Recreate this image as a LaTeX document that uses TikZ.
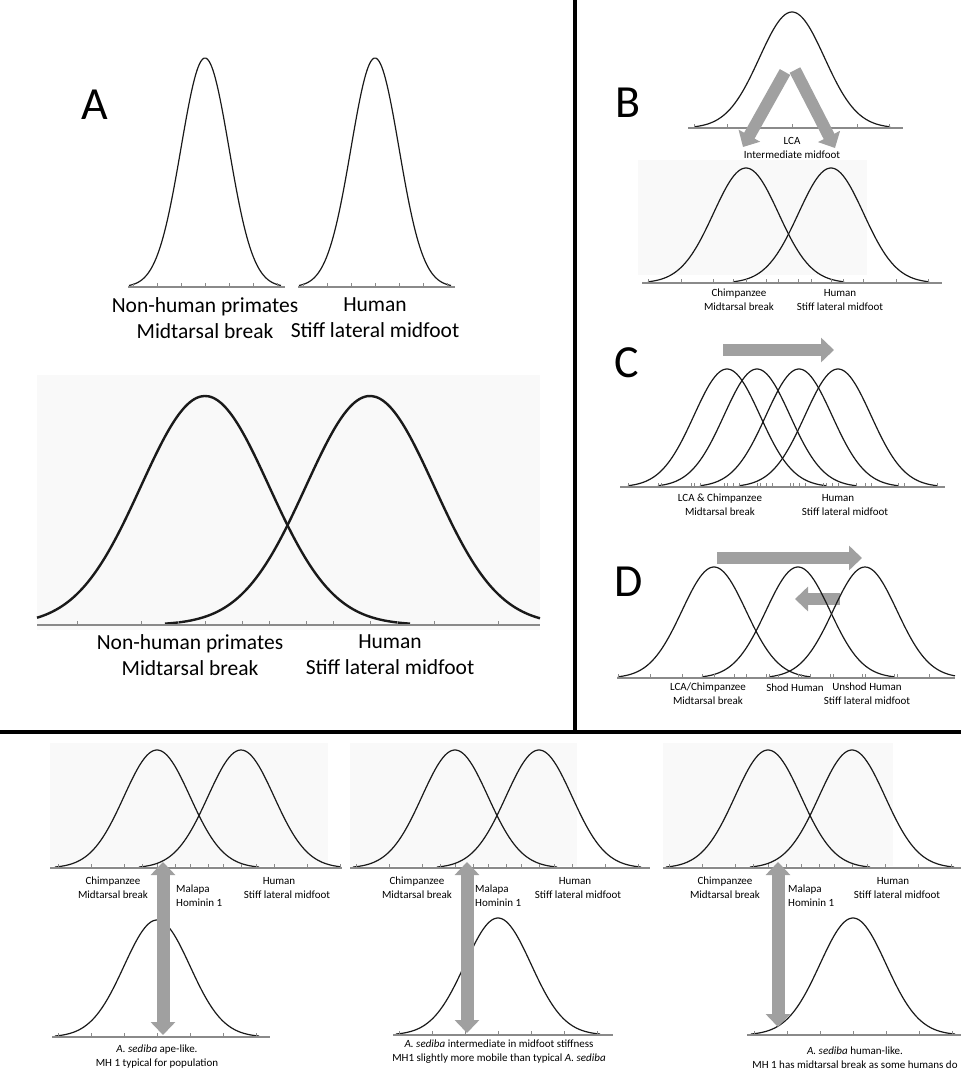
\documentclass[tikz,border=0pt]{standalone}
\usepackage{fontspec}
\setmainfont{Carlito}
\usepackage{xcolor}
\usepackage{tikz}
\usetikzlibrary{arrows.meta,positioning}
\definecolor{Ink}{HTML}{1A1A1A}
\definecolor{AxisGray}{HTML}{8A8A8A}
\definecolor{ArrowGray}{HTML}{A0A0A0}
\definecolor{ChartBg}{HTML}{F9F9F9}
% bell curve: [style]{centre}{baseline}{height}{sigma}{from}{to}
\newcommand{\bellcurve}[7][curve]{%
  \draw[#1] plot[domain=#6:#7,samples=90,smooth]
    (\x,{#3-#4*exp(-0.5*((\x-#2)/#5)*((\x-#2)/#5))});}
% ticks at every sigma: {centre}{baseline}{sigma}{list}
\newcommand{\sigmaticks}[4]{%
  \foreach \k in {#4} \draw[tickmark] ({#1+\k*#3},#2) -- ++(0,-4);}
\begin{document}
\begin{tikzpicture}[x=1pt,y=-1pt,
  curve/.style={line width=1.2pt,draw=Ink},
  boldcurve/.style={line width=2.4pt,draw=Ink},
  axisline/.style={line width=1.1pt,draw=AxisGray},
  tickmark/.style={line width=0.7pt,draw=AxisGray},
  panelletter/.style={font=\fontsize{46}{46}\selectfont,inner sep=0pt},
  biglabel/.style={font=\fontsize{21.5}{26}\selectfont,align=center,inner sep=0pt},
  smalllabel/.style={font=\fontsize{11}{14}\selectfont,align=center,inner sep=0pt},
  fatarrow/.style={draw=ArrowGray,line width=12pt,-{Triangle[length=13pt,width=24pt]}},
  dblarrow/.style={draw=ArrowGray,line width=13pt,{Triangle[length=13pt,width=24pt]}-{Triangle[length=13pt,width=24pt]}},
  chartbg/.style={fill=ChartBg,draw=none},
  divider/.style={line width=4.5pt,draw=black}
]
  \useasboundingbox (0,0) rectangle (961,1074);
  \draw[divider] (575,0) -- (575,732);
  \draw[divider] (0,732) -- (961,732);

  % A, small curves
  \node[panelletter] (letA) at (95,105) {A};
  \bellcurve{205}{287}{229}{24}{129}{281}
  \bellcurve{375}{287}{229}{24}{299}{451}
  \draw[axisline] (128,287) -- (285,287);
  \draw[axisline] (298,287) -- (455,287);
  \sigmaticks{205}{287}{24}{-3,...,3}
  \sigmaticks{375}{287}{24}{-3,...,3}
  \node[biglabel] (aNonHuman) at (205,318) {Non-human primates\\Midtarsal break};
  \node[biglabel] (aHuman) at (375,318) {Human\\Stiff lateral midfoot};

  % A, large curves
  \fill[chartbg] (37,375) rectangle (540,630);
  \bellcurve[boldcurve]{205}{625}{229}{64}{37}{410}
  \bellcurve[boldcurve]{370}{625}{229}{64}{165}{540}
  \draw[axisline] (37,625) -- (540,625);
  \sigmaticks{205}{625}{64}{-2,...,3}
  \sigmaticks{370}{625}{64}{-3,...,2}
  \node[biglabel] (aNonHumanBig) at (190,655) {Non-human primates\\Midtarsal break};
  \node[biglabel] (aHumanBig) at (390,655) {Human\\Stiff lateral midfoot};

  % B
  \node[panelletter] (letB) at (628,103) {B};
  \bellcurve{792}{128}{116}{32.5}{695}{890}
  \draw[axisline] (688,128) -- (903,128);
  \sigmaticks{792}{128}{32.5}{-3,...,3}
  \node[smalllabel] (bLca) at (792,148) {LCA\\Intermediate midfoot};
  \coordinate (bLeftTail) at (785,72);
  \coordinate (bLeftTip) at (743,147);
  \coordinate (bRightTail) at (795,70);
  \coordinate (bRightTip) at (835,148);
  \draw[fatarrow] (bLeftTail) -- (bLeftTip);
  \draw[fatarrow] (bRightTail) -- (bRightTip);
  \fill[chartbg] (638,160) rectangle (867,275);
  \bellcurve{746}{283}{115}{32.5}{648}{844}
  \bellcurve{831}{283}{115}{32.5}{733}{929}
  \draw[axisline] (642,283) -- (942,283);
  \sigmaticks{746}{283}{32.5}{-3,...,3}
  \sigmaticks{831}{283}{32.5}{-3,...,3}
  \node[smalllabel] (bChimp) at (739,300) {Chimpanzee\\Midtarsal break};
  \node[smalllabel] (bHuman) at (840,300) {Human\\Stiff lateral midfoot};

  % C
  \node[panelletter] (letC) at (627,363) {C};
  \coordinate (cTail) at (723,350);
  \coordinate (cTip) at (834,350);
  \draw[fatarrow] (cTail) -- (cTip);
  \bellcurve{727}{487}{118}{33}{628}{826}
  \bellcurve{757}{487}{118}{33}{658}{856}
  \bellcurve{799}{487}{118}{33}{700}{898}
  \bellcurve{838}{487}{118}{33}{739}{937}
  \draw[axisline] (620,487) -- (945,487);
  \sigmaticks{727}{487}{33}{-3,...,3}
  \sigmaticks{757}{487}{33}{-3,...,3}
  \sigmaticks{799}{487}{33}{-3,...,3}
  \sigmaticks{838}{487}{33}{-3,...,3}
  \node[smalllabel] (cChimp) at (720,505) {LCA \& Chimpanzee\\Midtarsal break};
  \node[smalllabel] (cHuman) at (838,498) {Human};
  \node[smalllabel] (cStiff) at (845,512) {Stiff lateral midfoot};

  % D
  \node[panelletter] (letD) at (629,582) {D};
  \coordinate (dLongTail) at (717,558);
  \coordinate (dLongTip) at (862,558);
  \coordinate (dShortTail) at (840,599);
  \coordinate (dShortTip) at (795,599);
  \draw[fatarrow] (dLongTail) -- (dLongTip);
  \draw[fatarrow] (dShortTail) -- (dShortTip);
  \bellcurve{714}{678}{111}{32}{618}{810}
  \bellcurve{798}{678}{111}{32}{702}{894}
  \bellcurve{865}{678}{111}{32}{769}{955}
  \draw[axisline] (617,678) -- (955,678);
  \sigmaticks{714}{678}{32}{-3,...,3}
  \sigmaticks{798}{678}{32}{-3,...,3}
  \sigmaticks{865}{678}{32}{-3,...,2}
  \node[smalllabel] (dChimp) at (708,694) {LCA/Chimpanzee\\Midtarsal break};
  \node[smalllabel] (dShod) at (795,688) {Shod Human};
  \node[smalllabel] (dUnshod) at (867,694) {Unshod Human\\Stiff lateral midfoot};

  % E
  \node[panelletter] (letE) at (72,770) {E};
  \fill[chartbg] (50,743) rectangle (328,866);
  \bellcurve{157}{868}{118}{33}{55}{259}
  \bellcurve{241}{868}{118}{33}{139}{340}
  \draw[axisline] (50,868) -- (342,868);
  \sigmaticks{157}{868}{33}{-3,...,3}
  \sigmaticks{241}{868}{33}{-3,...,3}
  \node[smalllabel] (eChimp) at (113,888) {Chimpanzee\\Midtarsal break};
  \node[smalllabel,align=left,anchor=west] (eMalapa) at (176,896) {Malapa\\Hominin 1};
  \node[smalllabel] (eHuman) at (279,881) {Human};
  \node[smalllabel] (eStiff) at (287,895) {Stiff lateral midfoot};
  \bellcurve{157}{1037}{117}{33}{55}{259}
  \draw[axisline] (52,1037) -- (270,1037);
  \sigmaticks{157}{1037}{33}{-3,...,3}
  \coordinate (eArrTop) at (163,862);
  \coordinate (eArrBot) at (163,1035);
  \draw[dblarrow] (eArrTop) -- (eArrBot);
  \node[smalllabel] (eSediba) at (157,1057) {\textit{A. sediba} ape-like.\\MH 1 typical for population};

  % F
  \node[panelletter] (letF) at (395,765) {F};
  \fill[chartbg] (350,743) rectangle (577,866);
  \bellcurve{455}{868}{118}{33}{353}{557}
  \bellcurve{539}{868}{118}{33}{437}{641}
  \draw[axisline] (350,868) -- (650,868);
  \sigmaticks{455}{868}{33}{-3,...,3}
  \sigmaticks{539}{868}{33}{-3,...,3}
  \node[smalllabel] (fChimp) at (417,888) {Chimpanzee\\Midtarsal break};
  \node[smalllabel,align=left,anchor=west] (fMalapa) at (475,896) {Malapa\\Hominin 1};
  \node[smalllabel] (fHuman) at (575,881) {Human};
  \node[smalllabel] (fStiff) at (578,895) {Stiff lateral midfoot};
  \bellcurve{498}{1035}{117}{33}{396}{600}
  \draw[axisline] (393,1035) -- (613,1035);
  \sigmaticks{498}{1035}{33}{-3,...,3}
  \coordinate (fArrTop) at (467,862);
  \coordinate (fArrBot) at (467,1033);
  \draw[dblarrow] (fArrTop) -- (fArrBot);
  \node[smalllabel] (fSediba) at (499,1052) {\textit{A. sediba} intermediate in midfoot stiffness\\MH1 slightly more mobile than typical \textit{A. sediba}};

  % G
  \node[panelletter] (letG) at (690,765) {G};
  \fill[chartbg] (663,743) rectangle (893,866);
  \bellcurve{768}{868}{118}{33}{666}{870}
  \bellcurve{852}{868}{118}{33}{750}{954}
  \draw[axisline] (663,868) -- (961,868);
  \sigmaticks{768}{868}{33}{-3,...,3}
  \sigmaticks{852}{868}{33}{-3,...,3}
  \node[smalllabel] (gChimp) at (725,888) {Chimpanzee\\Midtarsal break};
  \node[smalllabel,align=left,anchor=west] (gMalapa) at (788,896) {Malapa\\Hominin 1};
  \node[smalllabel] (gHuman) at (893,881) {Human};
  \node[smalllabel] (gStiff) at (897,895) {Stiff lateral midfoot};
  \bellcurve{853}{1035}{117}{33}{751}{955}
  \draw[axisline] (747,1035) -- (961,1035);
  \sigmaticks{853}{1035}{33}{-3,...,3}
  \coordinate (gArrTop) at (778,862);
  \coordinate (gArrBot) at (778,1027);
  \draw[dblarrow] (gArrTop) -- (gArrBot);
  \node[smalllabel] (gSediba) at (855,1058) {\textit{A. sediba} human-like.\\MH 1 has midtarsal break as some humans do};
\end{tikzpicture}
\end{document}
